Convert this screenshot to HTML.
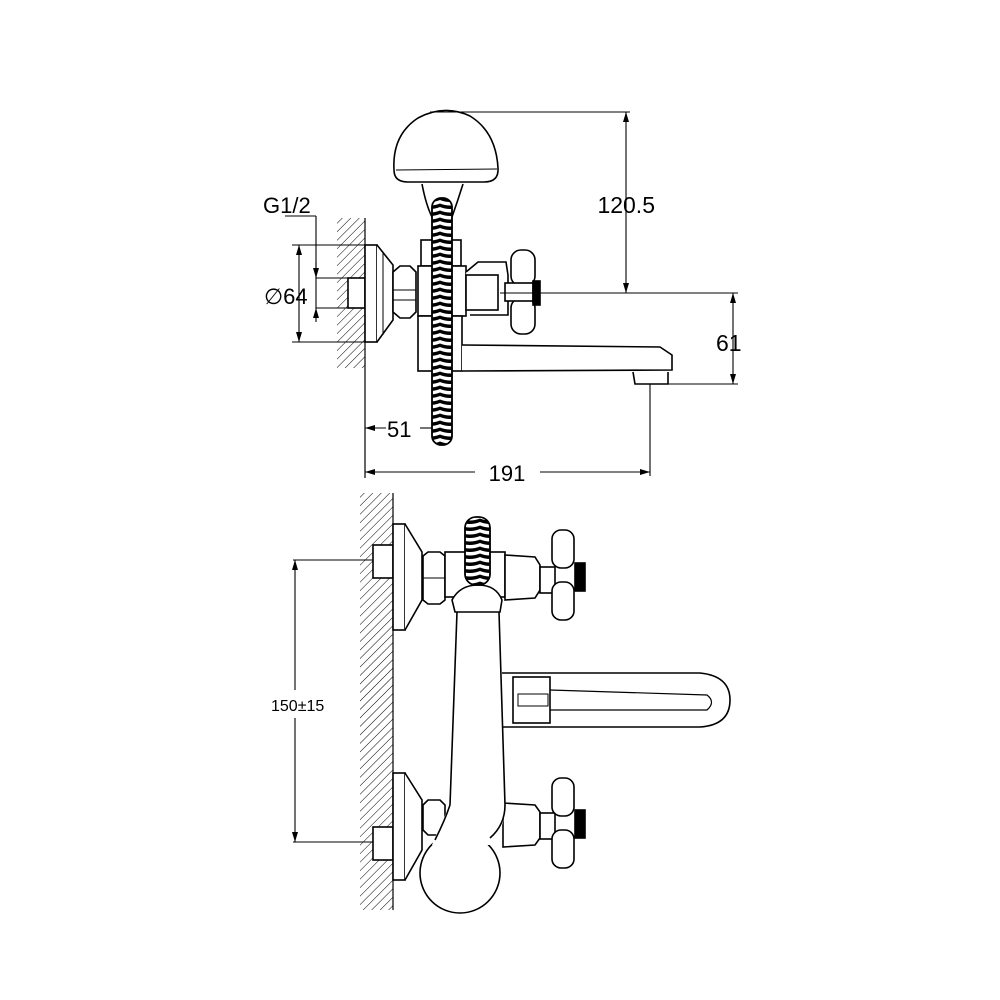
<!DOCTYPE html>
<html><head><meta charset="utf-8"><style>
html,body{margin:0;padding:0;background:#fff;}
svg{display:block;}
text{font-family:"Liberation Sans",sans-serif;fill:#000;}
</style></head><body>
<svg width="1000" height="1000" viewBox="0 0 1000 1000" xmlns="http://www.w3.org/2000/svg">
<defs>
<pattern id="h" width="6" height="6" patternUnits="userSpaceOnUse" patternTransform="rotate(45)">
<line x1="0" y1="0" x2="0" y2="6" stroke="#000" stroke-width="1"/>
</pattern>
<pattern id="hose" width="20" height="7" patternUnits="userSpaceOnUse">
<rect width="20" height="7" fill="#fff"/>
<path d="M0,0.5 Q10,4.5 20,0.5 L20,4 Q10,8 0,4Z" fill="#000"/>
</pattern>
<marker id="a" markerWidth="10" markerHeight="6" refX="10" refY="3" orient="auto-start-reverse" markerUnits="userSpaceOnUse">
<path d="M0,0 L10,3 L0,6Z" fill="#000"/>
</marker>
</defs>
<g fill="none" stroke="#000" stroke-width="1.6">
<!-- ===== TOP VIEW ===== -->
<rect x="337" y="218" width="28" height="150" fill="url(#h)" stroke="none"/>
<line x1="365" y1="218" x2="365" y2="478" stroke-width="1.2"/>
<rect x="348" y="278" width="17" height="30" fill="#fff"/>
<rect x="365" y="245" width="12" height="97" fill="#fff"/>
<path d="M377,245 L393,265 L393,320 L377,342" fill="#fff"/>
<line x1="383" y1="252" x2="383" y2="335" stroke-width="1"/>
<path d="M393,272 L400,266 L410,266 L416,272 L416,312 L410,318 L400,318 L393,312Z" fill="#fff"/>
<line x1="393" y1="290" x2="416" y2="290" stroke-width="1"/>
<line x1="393" y1="300" x2="416" y2="300" stroke-width="1"/>
<!-- body -->
<rect x="421" y="240" width="40" height="26" fill="#fff"/>
<rect x="418" y="266" width="48" height="50" fill="#fff"/>
<rect x="418" y="316" width="44" height="55" fill="#fff"/>
<path d="M466,272 L478,262 L506,262 L508,275 L508,315 L470,315" fill="#fff"/>
<rect x="466" y="275" width="32" height="35" fill="#fff"/>
<!-- handles -->
<rect x="511" y="250" width="24" height="36" rx="10" fill="#fff"/>
<rect x="511" y="298" width="24" height="36" rx="10" fill="#fff"/>
<rect x="505" y="283" width="28" height="18" fill="#fff"/>
<rect x="533" y="281" width="7" height="24" fill="#000"/>
<!-- spout -->
<path d="M462,345 L660,347 L672,355 L672,370 L462,371" fill="#fff"/>
<path d="M633,372 L635,384 L668,384 L668,372" fill="#fff"/>
<!-- shower head -->
<path d="M394,170 Q392,135 418,118 Q444,104 470,116 Q496,132 498,168 Q499,182 484,182 L408,182 Q394,182 394,170Z" fill="#fff"/>
<path d="M396,170 L497,169" stroke-width="1"/>
<path d="M422,184 Q426,205 432,217 L452,217 Q458,200 463,184" fill="#fff"/>
<!-- hose -->
<rect x="432" y="198" width="20" height="247" rx="9" fill="url(#hose)"/>
<rect x="432" y="198" width="20" height="247" rx="9"/>
<!-- dimensions -->
<g stroke-width="1.1">
<line x1="430" y1="112" x2="630" y2="112"/>
<line x1="626" y1="112" x2="626" y2="293" marker-start="url(#a)" marker-end="url(#a)"/>
<line x1="500" y1="293" x2="738" y2="293"/>
<line x1="733" y1="293" x2="733" y2="384" marker-start="url(#a)" marker-end="url(#a)"/>
<line x1="668" y1="384" x2="738" y2="384"/>
<line x1="650" y1="384" x2="650" y2="476"/>
<line x1="365" y1="472" x2="475" y2="472" marker-start="url(#a)"/>
<line x1="540" y1="472" x2="650" y2="472" marker-end="url(#a)"/>
<line x1="365" y1="428" x2="386" y2="428" marker-start="url(#a)"/>
<line x1="420" y1="428" x2="432" y2="428"/>
<line x1="292" y1="245" x2="377" y2="245"/>
<line x1="292" y1="342" x2="377" y2="342"/>
<line x1="299" y1="245" x2="299" y2="342" marker-start="url(#a)" marker-end="url(#a)"/>
<line x1="285" y1="216" x2="316" y2="216"/>
<line x1="316" y1="216" x2="316" y2="308"/>
<line x1="316" y1="278" x2="348" y2="278"/>
<line x1="316" y1="308" x2="348" y2="308"/>
<line x1="316" y1="262" x2="316" y2="278" marker-end="url(#a)"/>
<line x1="316" y1="322" x2="316" y2="308" marker-end="url(#a)"/>
</g>
<!-- ===== BOTTOM VIEW ===== -->
<rect x="360" y="493" width="33" height="417" fill="url(#h)" stroke="none"/>
<line x1="393" y1="493" x2="393" y2="910" stroke-width="1.2"/>
<!-- upper flange -->
<rect x="373" y="545" width="20" height="33" fill="#fff"/>
<rect x="393" y="524" width="12" height="106" fill="#fff"/>
<path d="M405,524 L422,552 L422,600 L405,630" fill="#fff"/>
<path d="M423,556 L428,552 L440,552 L445,556 L445,600 L440,604 L428,604 L423,600Z" fill="#fff"/>
<line x1="423" y1="578" x2="445" y2="578" stroke-width="1"/>
<rect x="445" y="552" width="60" height="45" fill="#fff"/>
<path d="M505,555 L535,557 L540,565 L540,590 L535,598 L505,600Z" fill="#fff"/>
<rect x="540" y="567" width="15" height="26" fill="#fff"/>
<rect x="552" y="530" width="22" height="38" rx="9" fill="#fff"/>
<rect x="552" y="582" width="22" height="38" rx="9" fill="#fff"/>
<rect x="575" y="563" width="10" height="28" fill="#000"/>
<!-- lower flange -->
<rect x="373" y="827" width="20" height="33" fill="#fff"/>
<rect x="393" y="773" width="12" height="107" fill="#fff"/>
<path d="M405,773 L422,800 L422,850 L405,880" fill="#fff"/>
<path d="M423,805 L428,800 L440,800 L445,805 L445,830 L440,835 L428,835 L423,830Z" fill="#fff"/>
<path d="M503,803 L535,805 L540,812 L540,838 L535,845 L503,847Z" fill="#fff"/>
<rect x="540" y="813" width="15" height="26" fill="#fff"/>
<rect x="552" y="778" width="22" height="38" rx="9" fill="#fff"/>
<rect x="552" y="830" width="22" height="38" rx="9" fill="#fff"/>
<rect x="575" y="810" width="10" height="28" fill="#000"/>
<!-- spout -->
<path d="M502,673 L700,673 Q730,676 730,700 Q730,725 700,727 L502,727" fill="#fff"/>
<path d="M550,690 L707,695 Q716,702 707,710 L550,710" stroke-width="1.2"/>
<rect x="513" y="677" width="37" height="46" fill="#fff"/>
<rect x="518" y="694" width="30" height="12" stroke-width="1"/>
<!-- body -->
<circle cx="460" cy="873" r="40" fill="#fff"/>
<path d="M457,612 L450,805 Q440,825 432,845 L490,845 Q505,830 505,805 L499,612Z" fill="#fff" stroke="none"/>
<line x1="457" y1="612" x2="450" y2="805"/>
<line x1="499" y1="612" x2="505" y2="805"/>
<path d="M450,805 Q445,820 435,840" />
<path d="M505,805 Q505,825 490,838" />
<path d="M452,600 Q460,585 478,585 Q496,585 502,600 L500,612 L455,612Z" fill="#fff"/>
<!-- hose end -->
<rect x="465" y="517" width="25" height="68" rx="11" fill="url(#hose)"/>
<rect x="465" y="517" width="25" height="68" rx="11"/>
<g stroke-width="1.1">
<line x1="293" y1="560" x2="373" y2="560"/>
<line x1="293" y1="842" x2="373" y2="842"/>
<line x1="295" y1="560" x2="295" y2="690" marker-start="url(#a)"/>
<line x1="295" y1="718" x2="295" y2="842" marker-end="url(#a)"/>
</g>
</g>
<text x="263" y="213" font-size="22">G1/2</text>
<text x="264" y="304" font-size="22">∅64</text>
<text x="655" y="213" font-size="23" text-anchor="end">120.5</text>
<text x="716" y="351" font-size="23">61</text>
<text x="387" y="437" font-size="22">51</text>
<text x="507" y="481" font-size="22" text-anchor="middle">191</text>
<text x="271" y="711" font-size="16">150±15</text>
</svg>
</body></html>
